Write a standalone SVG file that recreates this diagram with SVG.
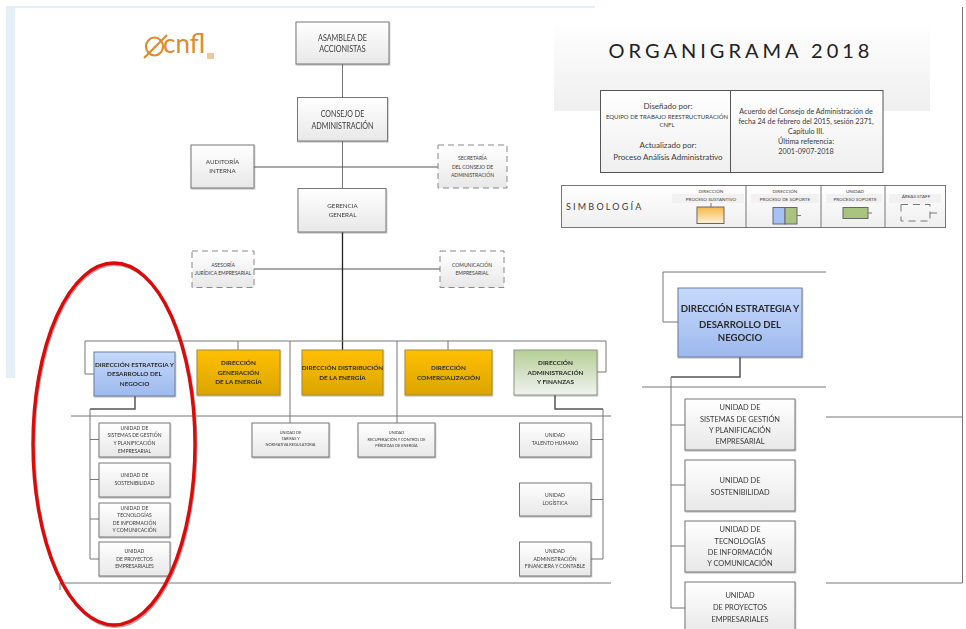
<svg xmlns="http://www.w3.org/2000/svg" width="966" height="629" viewBox="0 0 966 629">
<style>
text{font-family:Lato,"Liberation Sans",sans-serif;fill:#3a3a3a;text-anchor:middle}
.box{fill:url(#g);stroke:#777;stroke-width:1}
.dash{fill:url(#g);stroke:#888;stroke-width:1;stroke-dasharray:6 4}
.or{fill:url(#o);stroke:#a98a2a;stroke-width:1}
.bl{fill:url(#b);stroke:#6f7f99;stroke-width:1}
.gr{fill:url(#v);stroke:#8a9a80;stroke-width:1}
.c{fill:none;stroke:#777;stroke-width:1}
.d{fill:none;stroke:#555;stroke-width:1.5}
.k{fill:none;stroke:#222;stroke-width:1.3}
.s9{font-size:9.5px}.s6{font-size:6.2px}.s5{font-size:5px}.s4{font-size:3.9px}
.b6{font-size:6.4px;font-weight:700;fill:#2a2a2a}
.b10{font-size:9.6px;font-weight:700;fill:#2a2a2a}
.u8{font-size:7.4px}.i8{font-size:8px}.i7{font-size:7.2px}.l4{font-size:4.6px}
</style>
<defs>
<linearGradient id="g" x1="0" y1="0" x2="0" y2="1"><stop offset="0" stop-color="#fff"/><stop offset="1" stop-color="#e8e8e8"/></linearGradient>
<linearGradient id="o" x1="0" y1="0" x2="0" y2="1"><stop offset="0" stop-color="#ffc000"/><stop offset="1" stop-color="#dba500"/></linearGradient>
<linearGradient id="b" x1="0" y1="0" x2="0" y2="1"><stop offset="0" stop-color="#c6d9fb"/><stop offset="1" stop-color="#9db9ee"/></linearGradient>
<linearGradient id="v" x1="0" y1="0" x2="0" y2="1"><stop offset="0" stop-color="#b5cf95"/><stop offset="1" stop-color="#f2f2f2"/></linearGradient>
<linearGradient id="h" x1="0" y1="0" x2="0" y2="1"><stop offset="0" stop-color="#fff"/><stop offset="1" stop-color="#efefef"/></linearGradient>
<linearGradient id="s" x1="0" y1="0" x2="0" y2="1"><stop offset="0" stop-color="#f5b945"/><stop offset="1" stop-color="#fdf0d8"/></linearGradient>
<filter id="sh" x="-10%" y="-10%" width="120%" height="120%"><feDropShadow dx="0.5" dy="1" stdDeviation="0.7" flood-color="#000" flood-opacity="0.3"/></filter>
</defs>
<rect width="966" height="629" fill="#fff"/>
<g id="background">
<rect x="6" y="6" width="9" height="372" fill="#e6eff8"/>
<rect x="6" y="6" width="589" height="2" fill="#e6eff8"/>
<rect x="554" y="20" width="376" height="91" fill="url(#h)"/>
</g>
<g id="connectors">
<path class="c" d="M342.500 64V97.500M342.500 141V188.500"/>
<path class="c" d="M254 167H438M254 269H440" style="stroke:#555"/>
<path class="k" d="M342.500 232V350"/>
<path class="c" d="M85 374H94M85 374V341H606V372H597"/>
<path class="c" d="M238 341V350M290 341V423M397 341V423M448 341V350"/>
<path class="c" d="M71 416H611M60 583H611M60 583V590"/>
<path class="d" d="M135 396V409H90"/>
<path class="c" d="M90 409V559M90 439.500H99M90 479.500H99M90 519H99M90 559H99"/>
<path class="d" d="M555 395V409H603"/>
<path class="c" d="M603 409V559M603 439.500H591M603 499.500H591M603 559H591"/>
<path class="c" d="M826 272H663V322H678"/>
<path class="d" d="M740 357V377H671"/>
<path class="c" d="M671 377V608M671 425H685M671 485H685M671 546H685M671 608H685"/>
<path class="c" d="M642 387H826M826 417H962.500M826 583H962.500V7"/>
</g>
<g id="logo">
<ellipse cx="154.500" cy="46.500" rx="8.500" ry="9" fill="none" stroke="#e08a2c" stroke-width="2.200"/>
<path d="M144 58L167 35" stroke="#e08a2c" stroke-width="2.200"/>
<text x="184" y="53" style="font-size:26px;fill:#e08a2c">cnfl</text>
<rect x="207" y="53" width="7" height="6" fill="#f0c79a"/>
</g>
<g id="asamblea" filter="url(#sh)"><rect class="box" x="296" y="22" width="93" height="42"/><text class="s9" x="342.500" y="40.500" textLength="49" lengthAdjust="spacingAndGlyphs">ASAMBLEA DE</text><text class="s9" x="342.500" y="52" textLength="46.500" lengthAdjust="spacingAndGlyphs">ACCIONISTAS</text></g>
<g id="consejo" filter="url(#sh)"><rect class="box" x="297.500" y="97.500" width="90" height="43.500"/><text class="s9" x="342.500" y="116.500" textLength="43.500" lengthAdjust="spacingAndGlyphs">CONSEJO DE</text><text class="s9" x="342.500" y="128.500" textLength="62" lengthAdjust="spacingAndGlyphs">ADMINISTRACIÓN</text></g>
<g id="auditoria" filter="url(#sh)"><rect class="box" x="191" y="145" width="63" height="43"/><text class="s6" x="222.500" y="164">AUDITORÍA</text><text class="s6" x="222.500" y="173">INTERNA</text></g>
<g id="secretaria"><rect class="dash" x="438" y="145" width="69" height="43"/><text class="s5" x="472.500" y="160">SECRETARÍA</text><text class="s5" x="472.500" y="168.500">DEL CONSEJO DE</text><text class="s5" x="472.500" y="177">ADMINISTRACIÓN</text></g>
<g id="gerencia" filter="url(#sh)"><rect class="box" x="298" y="188.500" width="88" height="43.500"/><text class="s6" x="342.500" y="207.500">GERENCIA</text><text class="s6" x="342.500" y="217">GENERAL</text></g>
<g id="asesoria"><rect class="dash" x="192" y="251" width="62" height="36.500"/><text class="s5" x="223" y="266.500">ASESORÍA</text><text class="s5" x="223" y="274.500">JURÍDICA EMPRESARIAL</text></g>
<g id="comunicacion"><rect class="dash" x="440" y="251" width="64" height="36.500"/><text class="s5" x="472" y="266.500">COMUNICACIÓN</text><text class="s5" x="472" y="275">EMPRESARIAL</text></g>
<g id="dir-estrategia" filter="url(#sh)"><rect class="bl" x="94" y="352" width="81" height="44"/><text class="b6" x="134.500" y="366.500">DIRECCIÓN ESTRATEGIA Y</text><text class="b6" x="134.500" y="376">DESARROLLO DEL</text><text class="b6" x="134.500" y="385.500">NEGOCIO</text></g>
<g id="dir-generacion" filter="url(#sh)"><rect class="or" x="197" y="350" width="83" height="45"/><text class="b6" x="238.500" y="365">DIRECCIÓN</text><text class="b6" x="238.500" y="374.500">GENERACIÓN</text><text class="b6" x="238.500" y="384">DE LA ENERGÍA</text></g>
<g id="dir-distribucion" filter="url(#sh)"><rect class="or" x="302" y="350" width="81" height="45"/><text class="b6" x="342.500" y="369.500">DIRECCIÓN DISTRIBUCIÓN</text><text class="b6" x="342.500" y="379.500">DE LA ENERGÍA</text></g>
<g id="dir-comercializacion" filter="url(#sh)"><rect class="or" x="405" y="350" width="87" height="45"/><text class="b6" x="448.500" y="369.500">DIRECCIÓN</text><text class="b6" x="448.500" y="379.500">COMERCIALIZACIÓN</text></g>
<g id="dir-administracion" filter="url(#sh)"><rect class="gr" x="514" y="350" width="83" height="45"/><text class="b6" x="555.500" y="365">DIRECCIÓN</text><text class="b6" x="555.500" y="374.500">ADMINISTRACIÓN</text><text class="b6" x="555.500" y="384">Y FINANZAS</text></g>
<g id="u-sistemas" filter="url(#sh)"><rect class="box" x="99" y="423" width="71" height="34"/><text class="s5" x="134.500" y="429.800">UNIDAD DE</text><text class="s5" x="134.500" y="437.300">SISTEMAS DE GESTIÓN</text><text class="s5" x="134.500" y="444.800">Y PLANIFICACIÓN</text><text class="s5" x="134.500" y="452.800">EMPRESARIAL</text></g>
<g id="u-sostenibilidad" filter="url(#sh)"><rect class="box" x="99" y="463" width="71" height="34"/><text class="s5" x="134.500" y="477.300">UNIDAD DE</text><text class="s5" x="134.500" y="484.800">SOSTENIBILIDAD</text></g>
<g id="u-tecnologias" filter="url(#sh)"><rect class="box" x="99" y="503" width="71" height="34"/><text class="s5" x="134.500" y="509.800">UNIDAD DE</text><text class="s5" x="134.500" y="516.800">TECNOLOGÍAS</text><text class="s5" x="134.500" y="524.800">DE INFORMACIÓN</text><text class="s5" x="134.500" y="531.800">Y COMUNICACIÓN</text></g>
<g id="u-proyectos" filter="url(#sh)"><rect class="box" x="99" y="542" width="71" height="34"/><text class="s5" x="134.500" y="552.800">UNIDAD</text><text class="s5" x="134.500" y="560.800">DE PROYECTOS</text><text class="s5" x="134.500" y="567.800">EMPRESARIALES</text></g>
<g id="u-tarifas" filter="url(#sh)"><rect class="box" x="252" y="423" width="77" height="34"/><text class="s4" x="290.500" y="434.400">UNIDAD DE</text><text class="s4" x="290.500" y="440.400">TARIFAS Y</text><text class="s4" x="290.500" y="446.400">NORMATIVA REGULATORIA</text></g>
<g id="u-recuperacion" filter="url(#sh)"><rect class="box" x="358" y="423" width="77" height="34"/><text class="s4" x="396.500" y="434.400">UNIDAD</text><text class="s4" x="396.500" y="440.900">RECUPERACIÓN Y CONTROL DE</text><text class="s4" x="396.500" y="447.400">PÉRDIDAS DE ENERGÍA</text></g>
<g id="u-talento" filter="url(#sh)"><rect class="box" x="519.500" y="423" width="71.500" height="34"/><text class="s5" x="555" y="437.300">UNIDAD</text><text class="s5" x="555" y="444.800">TALENTO HUMANO</text></g>
<g id="u-logistica" filter="url(#sh)"><rect class="box" x="519.500" y="483" width="71.500" height="33"/><text class="s5" x="555" y="497.300">UNIDAD</text><text class="s5" x="555" y="504.800">LOGÍSTICA</text></g>
<g id="u-admin" filter="url(#sh)"><rect class="box" x="519.500" y="542" width="71.500" height="34"/><text class="s5" x="555" y="552.800">UNIDAD</text><text class="s5" x="555" y="560.800">ADMINISTRACIÓN</text><text class="s5" x="555" y="567.800">FINANCIERA Y CONTABLE</text></g>
<g id="ellipse"><ellipse cx="114" cy="444" rx="81" ry="181" fill="none" stroke="#aaa" stroke-width="3" transform="translate(1 1.500)"/><ellipse cx="114" cy="444" rx="81" ry="181" fill="none" stroke="#dc0a0a" stroke-width="3.400"/></g>
<g id="title"><text x="741" y="58" style="font-size:20px;letter-spacing:4px;fill:#222">ORGANIGRAMA 2018</text></g>
<g id="info"><rect x="600.500" y="90.500" width="130" height="82" fill="url(#h)" stroke="#555"/><rect x="730.500" y="90.500" width="152.500" height="82" fill="url(#h)" stroke="#555"/>
<text class="i8" x="668" y="109">Diseñado por:</text><text x="667" y="119" style="font-size:6px">EQUIPO DE TRABAJO REESTRUCTURACIÓN</text><text x="667" y="127" style="font-size:6px">CNFL</text><text class="i8" x="668" y="148">Actualizado por:</text><text class="i8" x="668" y="160">Proceso Análisis Administrativo</text>
<text class="i7" x="806" y="114">Acuerdo del Consejo de Administración de</text><text class="i7" x="806" y="123.500">fecha 24 de febrero del 2015, sesión 2371,</text><text class="i7" x="806" y="133.500">Capítulo III.</text><text class="i7" x="806" y="144">Última referencia:</text><text class="i7" x="806" y="154">2001-0907-2018</text></g>
<g id="simbologia"><rect x="561.500" y="185.500" width="384" height="42" fill="url(#h)" stroke="#777"/><path class="c" d="M746 185.500V227.500M821 185.500V227.500M885 185.500V227.500"/>
<rect x="672" y="194" width="72" height="9" fill="#f1f1f1"/><rect x="751" y="194" width="68" height="9" fill="#f1f1f1"/><rect x="826" y="194" width="56" height="9" fill="#f1f1f1"/><rect x="889" y="194" width="52" height="9" fill="#f1f1f1"/>
<text x="566" y="210" style="font-size:9px;letter-spacing:2.200px;text-anchor:start">SIMBOLOGÍA</text>
<text class="l4" x="711" y="192.500">DIRECCIÓN</text><text class="l4" x="711" y="200.500">PROCESO SUSTANTIVO</text>
<text class="l4" x="785" y="192.500">DIRECCIÓN</text><text class="l4" x="785" y="200.500">PROCESO DE SOPORTE</text>
<text class="l4" x="855" y="192.500">UNIDAD</text><text class="l4" x="855" y="200.500">PROCESO SOPORTE</text>
<text class="l4" x="916" y="198">ÁREAS STAFF</text>
<rect x="697" y="207" width="27" height="16.500" fill="url(#s)" stroke="#666"/><path class="c" d="M711 203V207"/>
<rect x="773" y="207.500" width="12" height="16.500" fill="#a6c1f3" stroke="#667"/><rect x="785" y="207.500" width="12" height="16.500" fill="#a9c47f" stroke="#667"/><path class="c" d="M797 215.500H801"/>
<rect x="843" y="207.500" width="25" height="11" fill="#a9c47f" stroke="#666"/><path class="c" d="M868 213H872"/>
<rect x="901" y="204.500" width="29" height="16.500" fill="none" stroke="#777" stroke-dasharray="7 5"/><path class="c" d="M930 213H937"/></g>
<g id="big-dir" filter="url(#sh)"><rect class="bl" x="678" y="288" width="124" height="69"/><text class="b10" x="740" y="312">DIRECCIÓN ESTRATEGIA Y</text><text class="b10" x="740" y="328">DESARROLLO DEL</text><text class="b10" x="740" y="341">NEGOCIO</text></g>
<g id="big-sistemas" filter="url(#sh)"><rect class="box" x="685" y="399" width="110" height="51"/><text class="u8" x="740" y="410">UNIDAD DE</text><text class="u8" x="740" y="422">SISTEMAS DE GESTIÓN</text><text class="u8" x="740" y="433">Y PLANIFICACIÓN</text><text class="u8" x="740" y="444">EMPRESARIAL</text></g>
<g id="big-sostenibilidad" filter="url(#sh)"><rect class="box" x="685" y="460" width="110" height="51"/><text class="u8" x="740" y="483">UNIDAD DE</text><text class="u8" x="740" y="495">SOSTENIBILIDAD</text></g>
<g id="big-tecnologias" filter="url(#sh)"><rect class="box" x="685" y="521" width="110" height="51"/><text class="u8" x="740" y="532">UNIDAD DE</text><text class="u8" x="740" y="544">TECNOLOGÍAS</text><text class="u8" x="740" y="555">DE INFORMACIÓN</text><text class="u8" x="740" y="566">Y COMUNICACIÓN</text></g>
<g id="big-proyectos" filter="url(#sh)"><rect class="box" x="685" y="582" width="110" height="51"/><text class="u8" x="740" y="598">UNIDAD</text><text class="u8" x="740" y="610">DE PROYECTOS</text><text class="u8" x="740" y="622">EMPRESARIALES</text></g>
</svg>
